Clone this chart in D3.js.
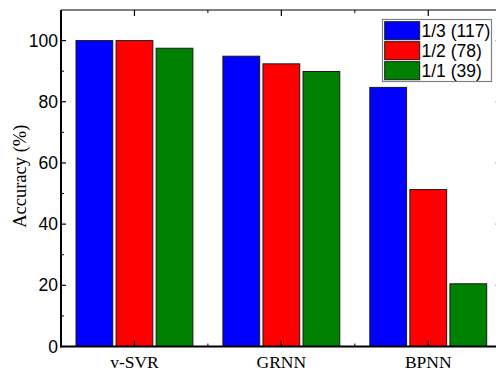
<!DOCTYPE html>
<html><head><meta charset="utf-8">
<script src="https://cdn.jsdelivr.net/npm/d3@7"></script>
<style>body{margin:0;background:#fff}svg{display:block}</style>
</head><body>
<svg id="c" width="496" height="373"></svg>
<script>
const categories = ["v-SVR", "GRNN", "BPNN"];
const seriesNames = ["1/3 (117)", "1/2 (78)", "1/1 (39)"];
const seriesColors = ["#0000ff", "#ff0000", "#008000"];
const s13 = [100, 94.9, 84.7];
const s12 = [100, 92.4, 51.3];
const s11 = [97.5, 89.9, 20.5];
const yTicks = [0, 20, 40, 60, 80, 100];
const yMinor = [10, 30, 50, 70, 90];
const yLabel = "Accuracy (%)";

const series = [s13, s12, s11];
const svg = d3.select("#c");
const L = 61, R = 501.7, T = 10, B = 346.5;

const x = d3.scaleBand().domain(categories).range([L, R]).padding(0);
const xi = d3.scaleBand().domain(seriesNames).range([15, x.bandwidth() - 15]).paddingInner(0.082);
const y = d3.scaleLinear().domain([0, 110]).range([B, T]);

// bars
categories.forEach((c, ci) => {
  seriesNames.forEach((s, si) => {
    const v = series[si][ci];
    svg.append("rect")
      .attr("x", x(c) + xi(s))
      .attr("y", y(v))
      .attr("width", xi.bandwidth())
      .attr("height", y(0) - y(v))
      .attr("fill", seriesColors[si])
      .attr("stroke", "#1a1a1a")
      .attr("stroke-width", 1);
  });
});

// left axis
const yAxis = d3.axisLeft(y).tickValues(yTicks).tickSize(0).tickPadding(3);
const gy = svg.append("g").attr("transform", `translate(${L},0)`).call(yAxis);
gy.select(".domain").remove();
gy.selectAll("text").attr("font-family", "Liberation Sans, Arial, sans-serif").attr("font-size", 17.5).attr("fill", "#000");

// major/minor inward ticks (left & right)
yTicks.forEach(t => {
  svg.append("line").attr("x1", L).attr("x2", L + 5).attr("y1", y(t)).attr("y2", y(t)).attr("stroke", "#000").attr("stroke-width", 1.2);
  svg.append("line").attr("x1", R).attr("x2", R - 6).attr("y1", y(t)).attr("y2", y(t)).attr("stroke", "#000").attr("stroke-width", 1.2);
});
yMinor.forEach(t => {
  svg.append("line").attr("x1", L).attr("x2", L + 3).attr("y1", y(t)).attr("y2", y(t)).attr("stroke", "#000").attr("stroke-width", 1);
});

// bottom axis
const xAxis = d3.axisBottom(x).tickSize(0).tickPadding(9);
const gx = svg.append("g").attr("transform", `translate(0,${B})`).call(xAxis);
gx.select(".domain").remove();
gx.selectAll("text").attr("font-family", "Liberation Serif, Times New Roman, serif").attr("font-size", 17.5).attr("fill", "#000");

// x ticks (bottom & top)
categories.forEach((c, i) => {
  const cx = x(c) + x.bandwidth() / 2;
  svg.append("line").attr("x1", cx).attr("x2", cx).attr("y1", B).attr("y2", B - 6).attr("stroke", "#000").attr("stroke-width", 1.2);
  svg.append("line").attr("x1", cx).attr("x2", cx).attr("y1", T).attr("y2", T + 6).attr("stroke", "#000").attr("stroke-width", 1.2);
  if (i > 0) {
    const mx = x(c);
    svg.append("line").attr("x1", mx).attr("x2", mx).attr("y1", B).attr("y2", B - 3).attr("stroke", "#000").attr("stroke-width", 1);
    svg.append("line").attr("x1", mx).attr("x2", mx).attr("y1", T).attr("y2", T + 3).attr("stroke", "#000").attr("stroke-width", 1);
  }
});

// frame
svg.append("line").attr("x1", L).attr("x2", R).attr("y1", T).attr("y2", T).attr("stroke", "#000").attr("stroke-width", 1);
svg.append("line").attr("x1", R).attr("x2", R).attr("y1", T).attr("y2", B).attr("stroke", "#000").attr("stroke-width", 1);
svg.append("line").attr("x1", L).attr("x2", L).attr("y1", T).attr("y2", B + 1).attr("stroke", "#000").attr("stroke-width", 2);
svg.append("line").attr("x1", L - 1).attr("x2", R).attr("y1", B).attr("y2", B).attr("stroke", "#000").attr("stroke-width", 2.2);

// y label
svg.append("text")
  .attr("transform", `translate(26,${(T + B) / 2 - 2}) rotate(-90)`)
  .attr("text-anchor", "middle")
  .attr("font-family", "Liberation Serif, Times New Roman, serif")
  .attr("font-size", 18.5)
  .text(yLabel);

// legend
const lg = svg.append("g").attr("transform", "translate(382.5,19.5)");
lg.append("rect").attr("width", 109).attr("height", 62).attr("fill", "#fff").attr("stroke", "#808080").attr("stroke-width", 1.2);
seriesNames.forEach((s, i) => {
  lg.append("rect").attr("x", 2.2).attr("y", 2.2 + i * 20).attr("width", 35).attr("height", 18)
    .attr("fill", seriesColors[i]).attr("stroke", "#1a1a1a").attr("stroke-width", 1);
  lg.append("text").attr("x", 39).attr("y", 17.5 + i * 20)
    .attr("font-family", "Liberation Sans, Arial, sans-serif").attr("font-size", 17.5).text(s);
});
</script>
</body></html>
